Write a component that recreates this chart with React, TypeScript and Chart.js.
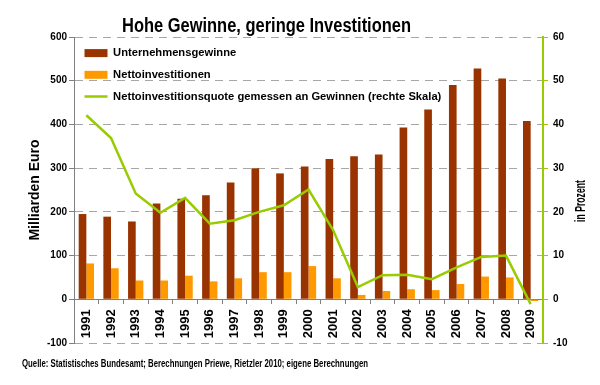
import React, { useEffect, useRef } from "react";
import { Chart, registerables } from "chart.js";

Chart.register(...registerables);

const TITLE = "Hohe Gewinne, geringe Investitionen";
const SOURCE = "Quelle: Statistisches Bundesamt; Berechnungen Priewe, Rietzler 2010; eigene Berechnungen";
const LEFT_TITLE = "Milliarden Euro";
const RIGHT_TITLE = "in Prozent";

const years = [
  "1991", "1992", "1993", "1994", "1995", "1996", "1997", "1998", "1999", "2000",
  "2001", "2002", "2003", "2004", "2005", "2006", "2007", "2008", "2009",
];
const gewinne = [195, 189, 178, 219, 230, 238, 267, 300, 288, 304, 321, 327, 331, 393, 434, 490, 528, 505, 408];
const investitionen = [82, 71, 43, 43, 54, 41, 48, 62, 62, 76, 48, 10, 19, 23, 21, 35, 52, 50, -4];
const quote = [42.1, 36.9, 24.2, 19.8, 23.2, 17.3, 18.1, 20.0, 21.5, 25.1, 15.8, 2.8, 5.5, 5.6, 4.6, 7.3, 9.7, 10.0, -1.1];

const seriesNames = [
  "Unternehmensgewinne",
  "Nettoinvestitionen",
  "Nettoinvestitionsquote gemessen an Gewinnen (rechte Skala)",
];

const leftRange = { min: -100, max: 600, step: 100 };
const rightRange = { min: -10, max: 60, step: 10 };

const DARK = "#993300";
const ORANGE = "#FF9900";
const GREEN = "#99CC00";
const GRID = "#A6A6A6";
const AXIS = "#808080";
const SANS = "'Liberation Sans', Arial, sans-serif";
const NARROW = "'Liberation Sans Narrow', 'Liberation Sans', Arial, sans-serif";

function fittedText(
  ctx: CanvasRenderingContext2D,
  text: string,
  x: number,
  y: number,
  font: string,
  width: number,
  align: CanvasTextAlign,
  rotate: boolean,
  baseline: CanvasTextBaseline
) {
  ctx.save();
  ctx.font = font;
  const w = ctx.measureText(text).width;
  let s = width / w;
  s = Math.max(0.6, Math.min(1.4, s));
  ctx.translate(x, y);
  if (rotate) ctx.rotate(-Math.PI / 2);
  ctx.scale(s, 1);
  ctx.textAlign = align;
  ctx.textBaseline = baseline;
  ctx.fillStyle = "#000";
  ctx.fillText(text, 0, 0);
  ctx.restore();
}

const textPlugin = {
  id: "extraTexts",
  afterDraw(chart: any) {
    const ctx = chart.ctx as CanvasRenderingContext2D;
    fittedText(ctx, TITLE, 266.5, 32, `bold 20px ${NARROW}`, 289, "center", false, "alphabetic");
    fittedText(ctx, SOURCE, 22, 367, `bold 10px ${NARROW}`, 346, "left", false, "alphabetic");
    fittedText(ctx, RIGHT_TITLE, 581, 201, `bold 14px ${NARROW}`, 42, "center", true, "middle");
  },
};

export default function App() {
  const ref = useRef<HTMLCanvasElement | null>(null);

  useEffect(() => {
    if (!ref.current) return;
    const chart = new Chart(ref.current, {
      type: "bar",
      data: {
        labels: years,
        datasets: [
          {
            type: "bar",
            label: seriesNames[0],
            data: gewinne,
            backgroundColor: DARK,
            borderWidth: 0,
            yAxisID: "y",
            barPercentage: 1.0,
            categoryPercentage: 0.62,
            pointStyle: "rect",
            order: 1,
          } as any,
          {
            type: "bar",
            label: seriesNames[1],
            data: investitionen,
            backgroundColor: ORANGE,
            borderWidth: 0,
            yAxisID: "y",
            barPercentage: 1.0,
            categoryPercentage: 0.62,
            pointStyle: "rect",
            order: 1,
          } as any,
          {
            type: "line",
            label: seriesNames[2],
            data: quote,
            borderColor: GREEN,
            backgroundColor: GREEN,
            borderWidth: 2.5,
            pointRadius: 0,
            tension: 0,
            yAxisID: "y1",
            pointStyle: "line",
            order: 0,
          } as any,
        ],
      },
      options: {
        responsive: false,
        animation: false,
        events: [],
        layout: { padding: { top: 37, left: 0, right: 0, bottom: 42 } },
        plugins: {
          title: { display: false },
          tooltip: { enabled: false },
          legend: {
            position: "chartArea" as any,
            align: "start",
            title: {
              display: true,
              text: "",
              font: { size: 10, lineHeight: 1.2 },
              padding: { top: 25, bottom: 0 },
            },
            labels: {
              usePointStyle: true,
              pointStyleWidth: 23,
              boxHeight: 8,
              padding: 10.5,
              color: "#000",
              font: { family: SANS, size: 11.2, weight: "bold" },
              sort: (a: any, b: any) => a.datasetIndex - b.datasetIndex,
            },
          },
        },
        scales: {
          x: {
            position: { y: 0 } as any,
            offset: true,
            grid: {
              offset: true,
              drawOnChartArea: false,
              drawTicks: true,
              tickLength: 4,
              color: AXIS,
              tickColor: AXIS,
            },
            border: { display: true, color: AXIS, width: 1 },
            ticks: {
              autoSkip: false,
              minRotation: 90,
              maxRotation: 90,
              padding: 6,
              color: "#000",
              font: { family: SANS, size: 13, weight: "bold" },
            },
          },
          y: {
            position: "left",
            min: leftRange.min,
            max: leftRange.max,
            ticks: {
              stepSize: leftRange.step,
              padding: 2,
              color: "#000",
              font: { family: SANS, size: 10, weight: "bold" },
            },
            grid: {
              color: GRID,
              lineWidth: 1,
              drawTicks: true,
              tickLength: 5,
              tickColor: AXIS,
              tickBorderDash: [],
            },
            border: { display: true, color: AXIS, width: 1, dash: [8, 6] },
            title: {
              display: true,
              text: LEFT_TITLE,
              color: "#000",
              font: { family: SANS, size: 14, weight: "bold", lineHeight: 1.2 },
              padding: { top: 26.6, bottom: 0 },
            },
            afterFit: (s: any) => {
              s.width = 74;
            },
          },
          y1: {
            position: "right",
            min: rightRange.min,
            max: rightRange.max,
            ticks: {
              stepSize: rightRange.step,
              padding: 5,
              color: "#000",
              font: { family: SANS, size: 10, weight: "bold" },
            },
            grid: {
              drawOnChartArea: false,
              drawTicks: true,
              tickLength: 5,
              color: GREEN,
              tickColor: GREEN,
            },
            border: { display: true, color: GREEN, width: 2 },
            afterFit: (s: any) => {
              s.width = 57;
            },
          },
        },
      },
      plugins: [textPlugin],
    });
    return () => chart.destroy();
  }, []);

  return (
    <div style={{ position: "fixed", left: 0, top: 0, width: 600, height: 385, background: "#fff" }}>
      <canvas ref={ref} width={600} height={385} style={{ display: "block" }} />
    </div>
  );
}
